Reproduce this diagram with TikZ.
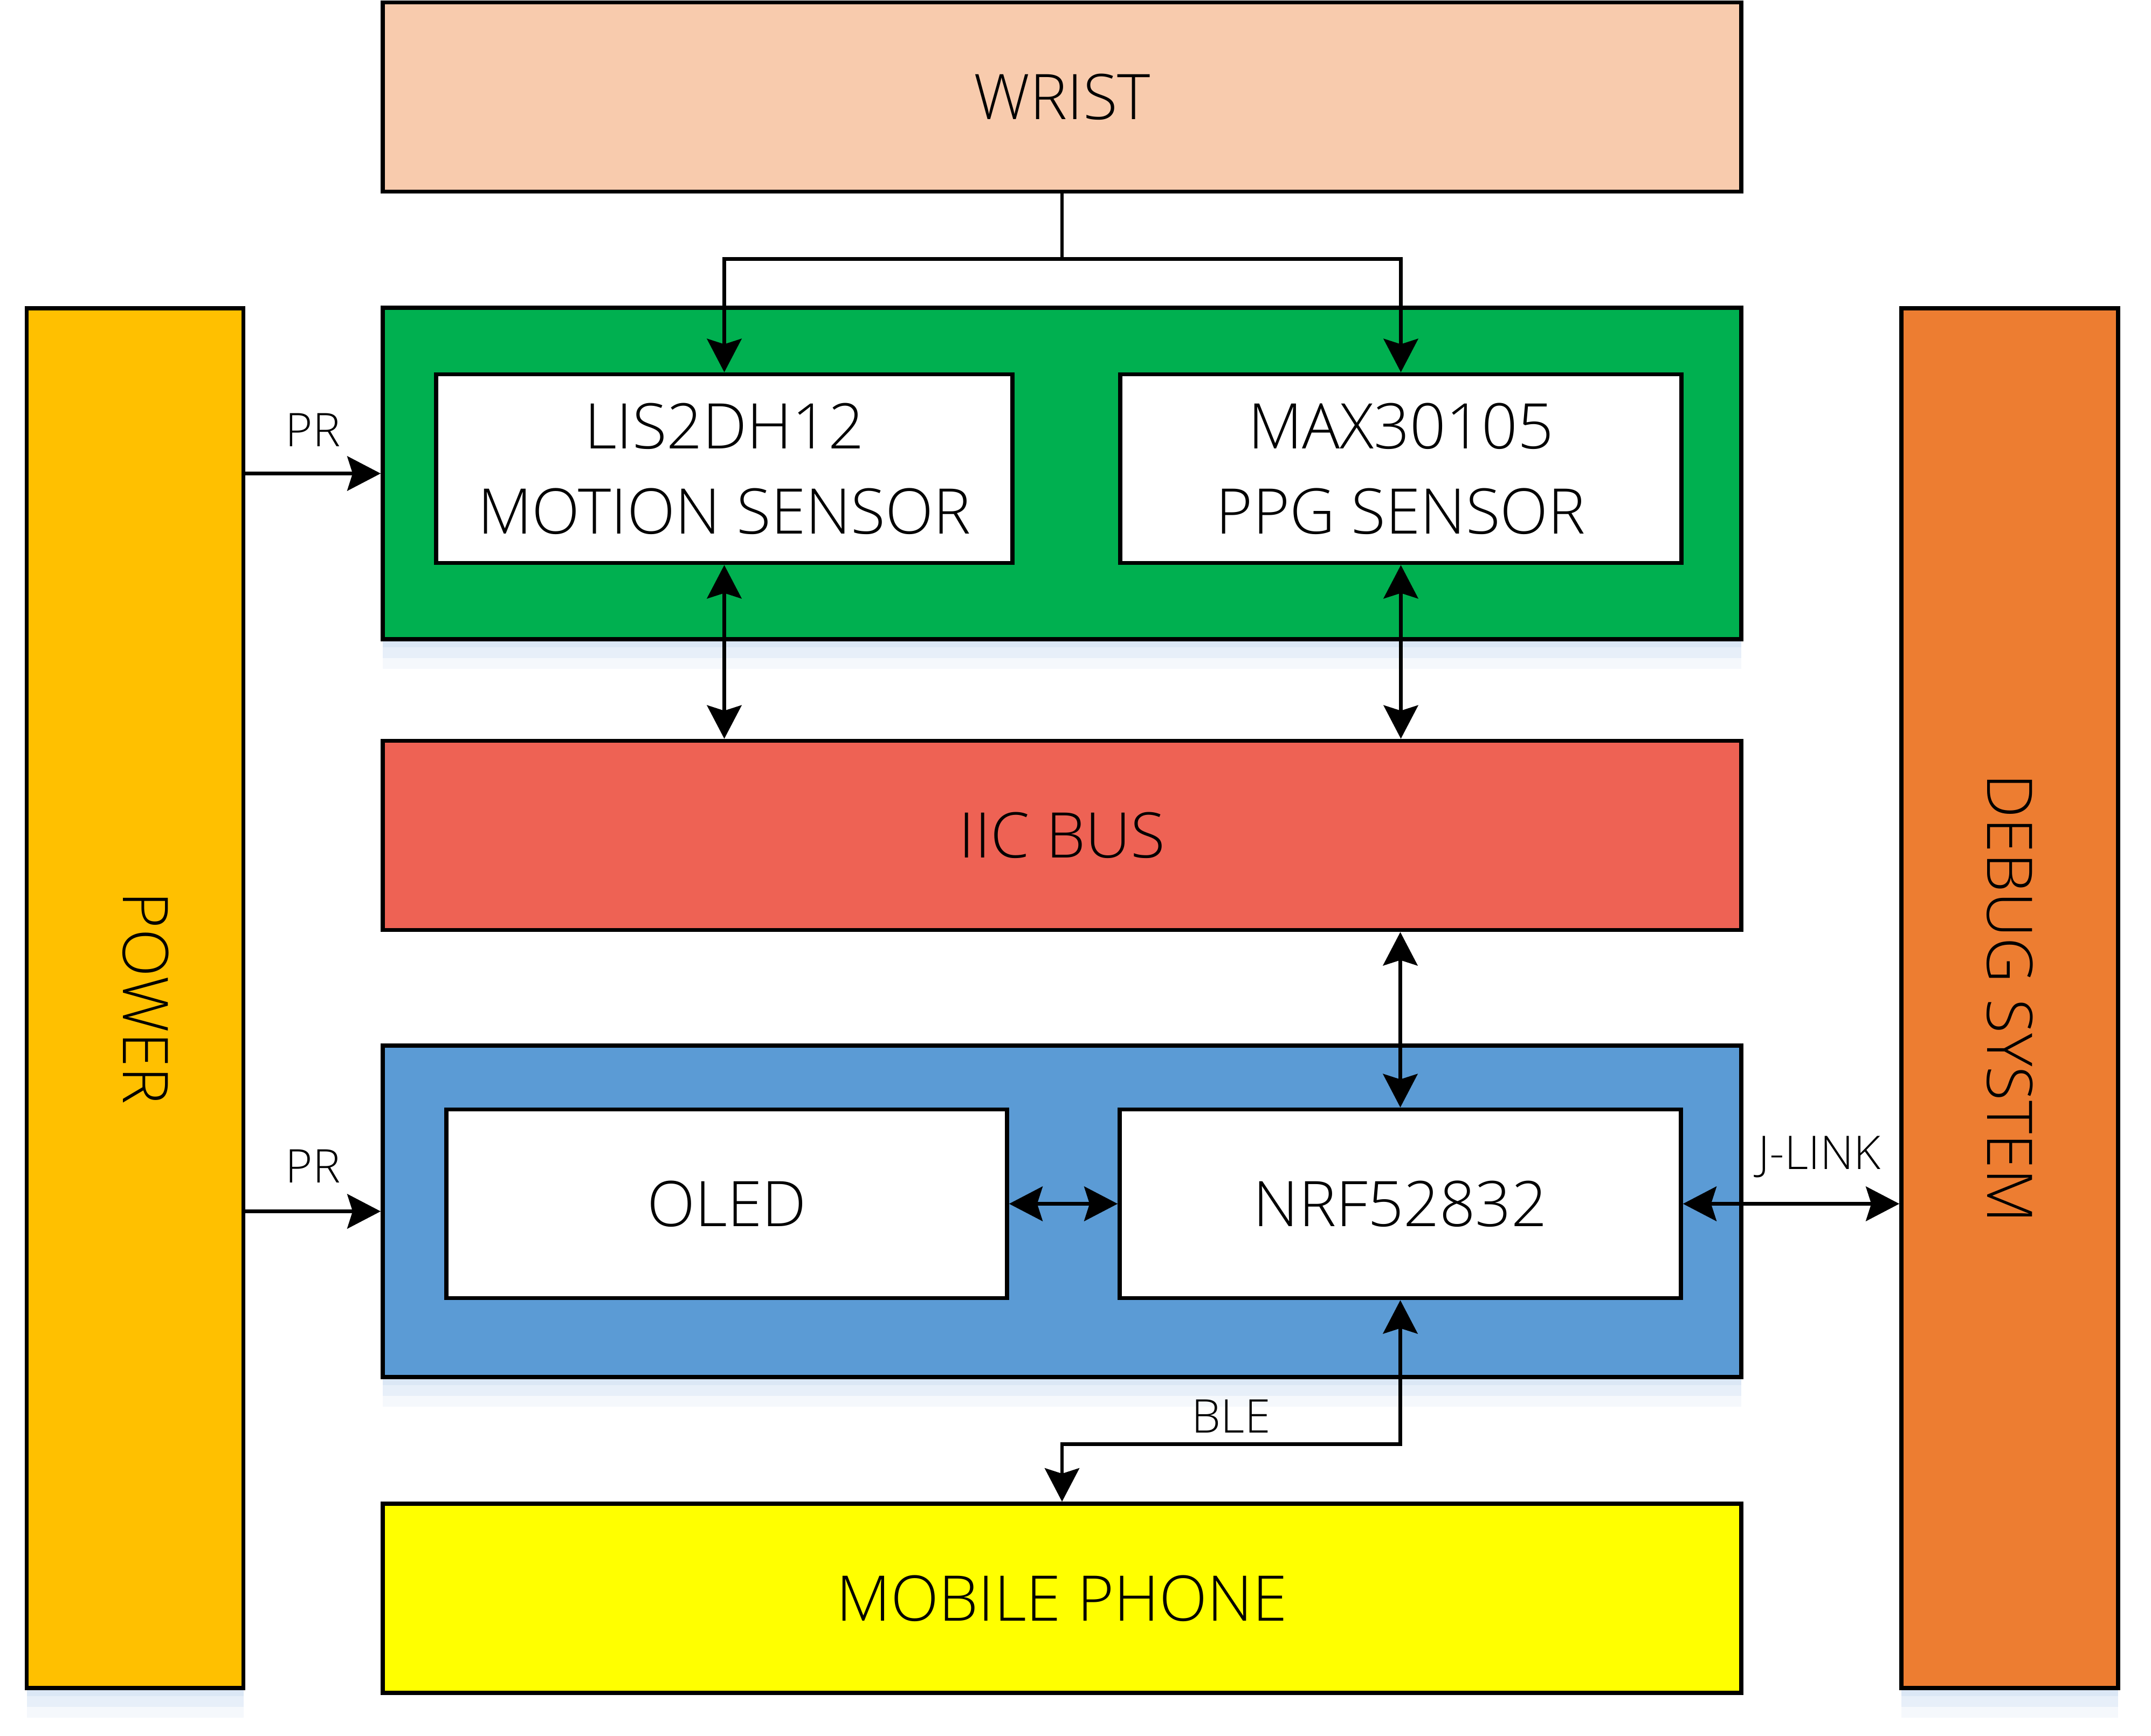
\documentclass[tikz,border=0pt]{standalone}
\usepackage{fontspec}
\usepackage{graphicx}
\setmainfont{Open Sans Light}
\usetikzlibrary{arrows.meta,shadows}

\definecolor{wristcol}{RGB}{248,203,173}
\definecolor{sensorcol}{RGB}{0,176,80}
\definecolor{buscol}{RGB}{238,98,84}
\definecolor{mcucol}{RGB}{91,155,213}
\definecolor{phonecol}{RGB}{255,255,0}
\definecolor{powercol}{RGB}{255,192,0}
\definecolor{debugcol}{RGB}{237,125,49}
\definecolor{shadowcol}{RGB}{214,228,244}

\begin{document}
\begin{tikzpicture}[every node/.style={inner sep=0pt,font=\fontsize{33.2}{45}\selectfont},
    softshadow/.style={drop shadow={shadow xshift=0cm,shadow yshift=-0.55cm,fill=shadowcol,opacity=0.25},
                       drop shadow={shadow xshift=0cm,shadow yshift=-0.35cm,fill=shadowcol,opacity=0.45},
                       drop shadow={shadow xshift=0cm,shadow yshift=-0.15cm,fill=shadowcol,opacity=0.7}},
    block/.style={draw,line width=2.2pt,minimum width=25.2cm,minimum height=3.51cm},
    chip/.style={draw,line width=2.2pt,fill=white,minimum height=3.5cm,align=center},
    side/.style={draw,line width=2.2pt,minimum width=4.02cm,minimum height=25.6cm},
    lbl/.style={font=\fontsize{24.5}{29}\selectfont},
    >={Stealth[length=6.2mm,width=6.4mm,inset=1mm]},line width=1.9pt]
    \useasboundingbox (0,0) rectangle (39.9,-32.2);

    \node[block,fill=wristcol] (wrist) at (19.70,-1.80) {WRIST};

    \node[block,softshadow,fill=sensorcol,minimum height=6.15cm] (sensors) at (19.70,-8.785) {};
    \node[chip,minimum width=10.69cm] (lis) at (13.435,-8.695) {LIS2DH12\\MOTION SENSOR};
    \node[chip,minimum width=10.41cm] (max) at (25.985,-8.695) {MAX30105\\PPG SENSOR};

    \node[block,fill=buscol] (iic) at (19.70,-15.50) {IIC BUS};

    \node[block,softshadow,fill=mcucol,minimum height=6.15cm] (mcu) at (19.70,-22.475) {};
    \node[chip,minimum width=10.40cm] (oled) at (13.48,-22.335) {OLED};
    \node[chip,minimum width=10.41cm] (nrf) at (25.975,-22.335) {NRF52832};

    \node[block,fill=phonecol] (phone) at (19.70,-29.655) {MOBILE PHONE};

    \node[side,softshadow,fill=powercol] (power) at (2.505,-18.52) {\hspace*{0.4cm}\rotatebox{-90}{POWER}};
    \node[side,softshadow,fill=debugcol] (debug) at (37.28,-18.52) {\rotatebox{-90}{DEBUG SYSTEM}};

    \draw[->] (wrist.south) -- ++(0,-1.21) -| (lis.north);
    \draw[->] (wrist.south) -- ++(0,-1.21) -| (max.north);

    \draw[<->] (lis.south) -- (lis.south |- iic.north);
    \draw[<->] (max.south) -- (max.south |- iic.north);
    \draw[<->] (nrf.north |- iic.south) -- (nrf.north);
    \draw[<->] (oled) -- (nrf);

    \draw[<->] (nrf.east) -- (nrf.east -| debug.west) node[lbl,pos=0.63,above=0.45cm] {J-LINK};
    \draw[->] (power.east |- sensors.west) -- (sensors.west) node[lbl,midway,above=0.47cm] {PR};
    \draw[->] (power.east |- mcu.west) -- (mcu.west) node[lbl,midway,above=0.5cm] {PR};
    \draw[<->] (phone.north) -- ++(0,1.07) -| (nrf.south) node[lbl,pos=0.25,above=0.17cm] {BLE};
\end{tikzpicture}
\end{document}
